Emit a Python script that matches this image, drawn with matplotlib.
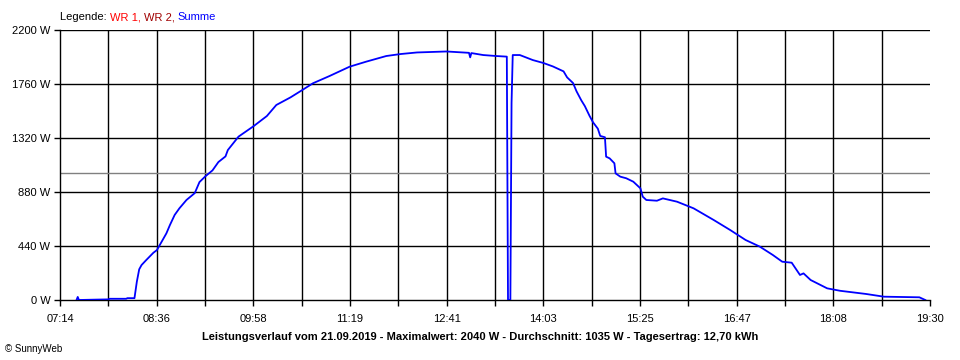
import matplotlib
matplotlib.use("Agg")
import matplotlib.pyplot as plt
import numpy as np

# ---- data ----
times = ["07:28", "07:29", "07:30", "07:44", "07:55", "07:56", "08:10", "08:11", "08:17",
         "08:19", "08:21", "08:23", "08:27", "08:33", "08:36", "08:40", "08:44", "08:47",
         "08:51", "08:55", "09:01", "09:08", "09:12", "09:17", "09:23", "09:28", "09:34",
         "09:36", "09:45", "09:58", "10:09", "10:17", "10:29", "10:39", "10:48", "11:02",
         "11:19", "11:33", "11:50", "12:02", "12:16", "12:41", "13:00", "13:01", "13:02",
         "13:12", "13:23", "13:32", "13:33", "13:35", "13:36", "13:37", "13:43", "13:54",
         "14:03", "14:11", "14:20", "14:23", "14:28", "14:31", "14:35", "14:38", "14:42",
         "14:45", "14:49", "14:51", "14:55", "14:56", "14:59", "15:03", "15:04", "15:08",
         "15:13", "15:19", "15:25", "15:27", "15:30", "15:39", "15:44", "15:56", "16:10",
         "16:27", "16:41", "16:54", "17:06", "17:17", "17:25", "17:33", "17:40", "17:43",
         "17:49", "18:03", "18:14", "18:36", "18:51", "19:21", "19:26"]
summe_w = [0, 25, 0, 3, 5, 10, 10, 15, 15,
           149, 250, 285, 326, 385, 407, 475, 543, 611,
           693, 747, 815, 871, 961, 1008, 1056, 1124, 1170,
           1222, 1331, 1418, 1499, 1589, 1651, 1711, 1766, 1825,
           1901, 1942, 1988, 2004, 2017, 2025, 2014, 1977, 2012,
           1996, 1988, 1983, 0, 0, 1605, 1996, 1996, 1955,
           1931, 1903, 1863, 1814, 1768, 1700, 1627, 1580, 1500,
           1447, 1396, 1337, 1326, 1168, 1154, 1114, 1032, 1005,
           992, 964, 910, 842, 815, 809, 828, 801, 747,
           652, 570, 489, 435, 367, 312, 304, 204, 217,
           163, 95, 75, 49, 27, 22, 0]
y_ticks = [0, 440, 880, 1320, 1760, 2200]
x_tick_labels = ["07:14", "08:36", "09:58", "11:19", "12:41", "14:03", "15:25", "16:47", "18:08", "19:30"]
average_w = 1035
title = "Leistungsverlauf vom 21.09.2019 - Maximalwert: 2040 W - Durchschnitt: 1035 W - Tagesertrag: 12,70 kWh"


def to_min(s):
    h, m = s.split(":")
    return int(h) * 60 + int(m)


t = np.array([to_min(s) for s in times], dtype=float)
v = np.array(summe_w, dtype=float)
t0, t1 = to_min("07:14"), to_min("19:30")

plt.rcParams['font.family'] = ['Liberation Sans', 'DejaVu Sans']
fig = plt.figure(figsize=(9.6, 3.6), dpi=100)
ax = fig.add_axes([60 / 960, 1 - 300 / 360, 870 / 960, 270 / 360])

ax.set_xlim(t0, t1)
ax.set_ylim(0, 2200)

major = np.linspace(t0, t1, len(x_tick_labels))
minor = (major[:-1] + major[1:]) / 2
ax.set_xticks(major)
ax.set_xticklabels(x_tick_labels)
ax.set_xticks(minor, minor=True)
ax.set_yticks(y_ticks)
ax.set_yticklabels([f"{y} W" for y in y_ticks])

for x in list(major[1:-1]) + list(minor):
    ax.axvline(x, color='black', lw=1.0, zorder=1)
for y in y_ticks[1:]:
    ax.axhline(y, color='black', lw=1.0, zorder=1)
ax.axhline(average_w, color='#808080', lw=1.0, zorder=1.5)

ax.plot(t, v, color='#0000FF', lw=1.3, zorder=3)

for s in ['top', 'right']:
    ax.spines[s].set_visible(False)
ax.spines['left'].set_linewidth(1.0)
ax.spines['bottom'].set_linewidth(1.0)
ax.tick_params(axis='both', which='both', length=4, width=1.0, color='black',
               labelsize=8, pad=3)
ax.tick_params(axis='x', which='major', pad=6)

fig.text(480 / 960, 1 - 337 / 360, title, ha='center', va='center',
         fontsize=8, fontweight='bold')
fig.text(5 / 960, 1 - 349 / 360, "© SunnyWeb", ha='left', va='center', fontsize=7)

l0 = fig.text(60 / 960, 1 - 17 / 360, "Legende: ", ha='left', va='center', fontsize=8, color='black')
l1 = fig.text(0, 0, "", fontsize=8)
a1 = ax.annotate("WR 1, ", xy=(1, 0), xycoords=l0, va='bottom', ha='left', fontsize=8, color='#FF0000')
a2 = ax.annotate("WR 2, ", xy=(1, 0), xycoords=a1, va='bottom', ha='left', fontsize=8, color='#A00000')
a3 = ax.annotate("Summe", xy=(1, 0), xycoords=a2, va='bottom', ha='left', fontsize=8, color='#0000FF')

fig.savefig("out.png", dpi=100)
